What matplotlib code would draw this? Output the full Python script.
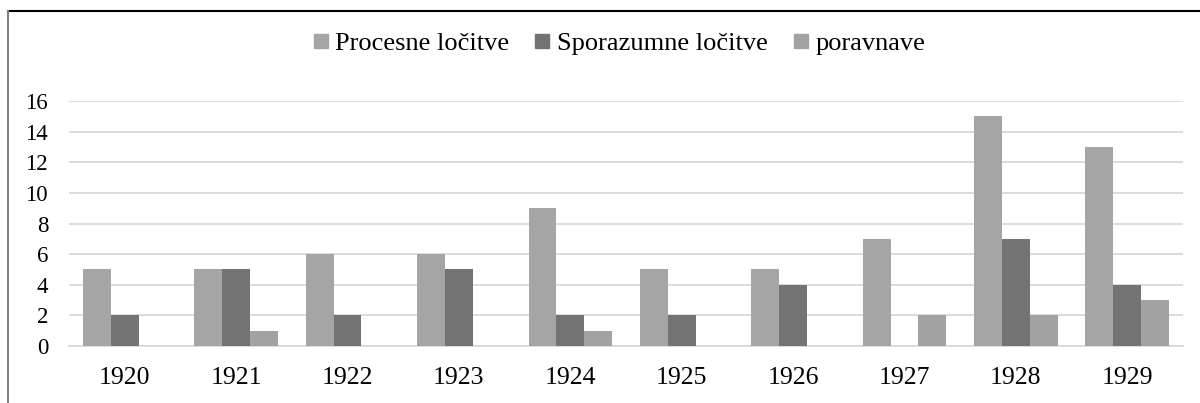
import numpy as np
import matplotlib
matplotlib.use("Agg")
import matplotlib.pyplot as plt
from matplotlib.lines import Line2D

plt.rcParams['font.family'] = ['Liberation Serif', 'DejaVu Serif']

years = ['1920', '1921', '1922', '1923', '1924', '1925', '1926', '1927', '1928', '1929']
procesne = [5, 5, 6, 6, 9, 5, 5, 7, 15, 13]
sporazumne = [2, 5, 2, 5, 2, 2, 4, 0, 7, 4]
poravnave = [0, 1, 0, 0, 1, 0, 0, 2, 2, 3]

series = [
    ('Procesne ločitve', procesne, '#a5a5a5'),
    ('Sporazumne ločitve', sporazumne, '#737373'),
    ('poravnave', poravnave, '#a2a2a2'),
]

fig = plt.figure(figsize=(12, 4.03), dpi=100)
ax = fig.add_axes([0.0575, 0.1414, 0.9283, 0.6076])

x = np.arange(len(years))
w = 0.25
for i, (name, vals, col) in enumerate(series):
    ax.bar(x + (i - 1) * w, vals, w, color=col, label=name, zorder=3)

ax.set_xlim(-0.5, len(years) - 0.5)
ax.set_ylim(0, 16)
ax.set_yticks(range(0, 17, 2))
ax.set_xticks(x)
ax.set_xticklabels(years)
ax.yaxis.grid(True, color='#d9d9d9', linewidth=1.3, zorder=0)
for s in ['top', 'right', 'left']:
    ax.spines[s].set_visible(False)
ax.spines['bottom'].set_color('#d9d9d9')
ax.spines['bottom'].set_linewidth(1.3)
ax.tick_params(axis='both', length=0)
ax.tick_params(axis='x', pad=15, labelsize=18.5)
ax.tick_params(axis='y', pad=15, labelsize=16.5)

handles = [Line2D([0], [0], marker='s', linestyle='', markersize=10.5,
                  markerfacecolor=c, markeredgecolor=c) for _, _, c in series]
fig.legend(handles, [n for n, _, _ in series], loc='center',
           bbox_to_anchor=(0.514, 0.893), ncol=3, frameon=False,
           fontsize=19, handletextpad=0.1, columnspacing=0.8, handlelength=0.9)

# outer border fragments
fig.add_artist(Line2D([8 / 1200, 1.0], [1 - 11 / 403, 1 - 11 / 403],
                      transform=fig.transFigure, color='black', linewidth=1.5))
fig.add_artist(Line2D([8 / 1200, 8 / 1200], [0.0, 1 - 11 / 403],
                      transform=fig.transFigure, color='#808080', linewidth=1.5))

fig.savefig('out.png', dpi=100)
